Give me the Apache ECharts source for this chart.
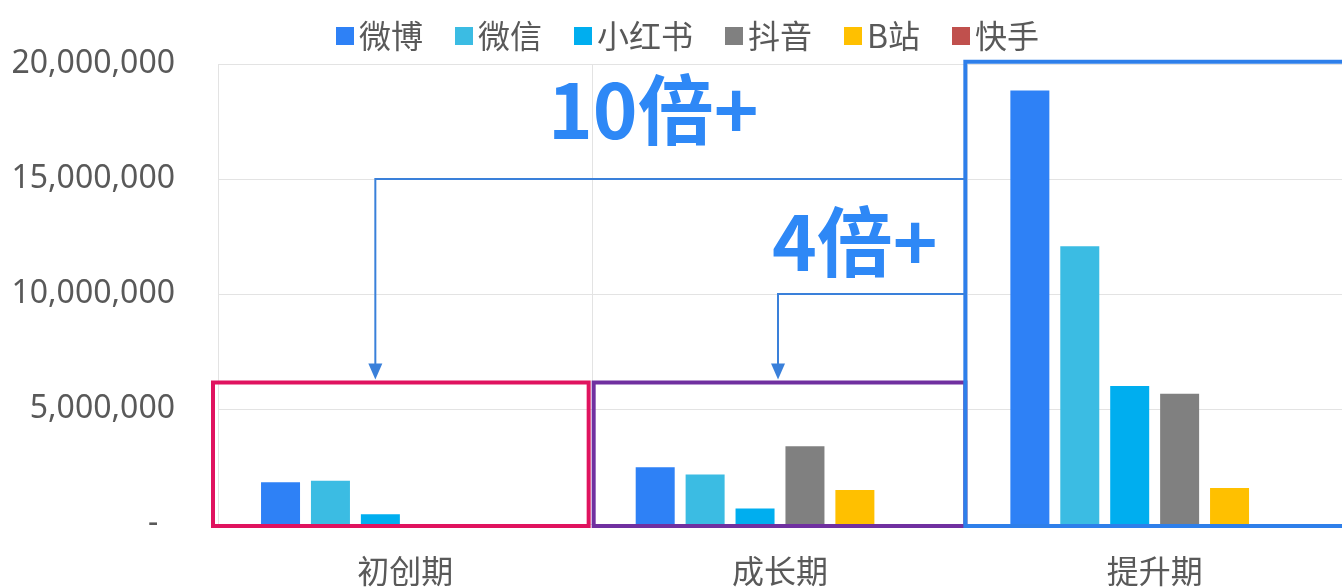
<!DOCTYPE html>
<html>
<head>
<meta charset="utf-8">
<script src="https://cdn.jsdelivr.net/npm/echarts@6/dist/echarts.min.js"></script>
<style>
    html, body { margin: 0; padding: 0; background: #fff; }
    #main { width: 1342px; height: 588px; }
</style>
</head>
<body>
<div id="main"></div>
<script>
// 数据
var categories = ['初创期', '成长期', '提升期'];
var seriesNames = ['微博', '微信', '小红书', '抖音', 'B站', '快手'];
var weibo = [1820000, 2470000, 18850000];
var weixin = [1880000, 2150000, 12080000];
var xiaohongshu = [420000, 670000, 6000000];
var douyin = [0, 3380000, 5660000];
var bilibili = [0, 1480000, 1560000];
var kuaishou = [0, 0, 0];
var yTicks = [0, 5000000, 10000000, 15000000, 20000000];
var colors = ['#2E81F6', '#3BBCE3', '#00AEEF', '#808080', '#FFC000', '#C0504D'];

// 标注: 框 (类目索引, 顶部值) 与 箭头 (起始值, 目标类目)
var boxCats = [0, 1, 2];
var boxTops = [6150000, 6150000, 20100000];
var boxColors = ['#E0135F', '#7030A0', '#2E7FEA'];
var arrowFrom = [15000000, 10000000];
var arrowToCat = [0, 1];
var arrowTexts = ['10倍+', '4倍+'];

var FONT = '"Noto Sans CJK SC", "Noto Sans", sans-serif';
var NUM_FONT = '"Noto Sans", "Noto Sans CJK SC", sans-serif';
var allData = [weibo, weixin, xiaohongshu, douyin, bilibili, kuaishou];

var myChart = echarts.init(document.getElementById('main'));

var option = {
    animation: false,
    color: colors,
    textStyle: { fontFamily: FONT },
    legend: {
        data: seriesNames,
        left: 331,
        top: 15,
        itemWidth: 18,
        itemHeight: 18,
        itemGap: 32,
        icon: 'rect',
        textStyle: { fontSize: 32, color: '#595959', fontFamily: FONT }
    },
    grid: { left: 218, top: 64, width: 1132, height: 460 },
    xAxis: {
        type: 'category',
        data: categories,
        axisLine: { lineStyle: { color: '#D9D9D9' } },
        axisTick: { show: false },
        splitLine: { show: true, lineStyle: { color: '#E3E3E3' } },
        axisLabel: { fontSize: 32, color: '#595959', margin: 31, fontFamily: FONT }
    },
    yAxis: {
        type: 'value',
        min: 0,
        max: 20000000,
        interval: 5000000,
        axisLine: { show: false },
        axisTick: { show: false },
        splitLine: { lineStyle: { color: '#E3E3E3' } },
        axisLabel: {
            fontSize: 32,
            color: '#595959',
            margin: 43,
            fontFamily: NUM_FONT,
            formatter: function (v) {
                return v === 0 ? '-  ' : v.toLocaleString('en-US');
            }
        }
    },
    series: seriesNames.map(function (name, i) {
        return {
            name: name,
            type: 'bar',
            data: allData[i],
            barWidth: 39,
            barGap: '28%',
            barCategoryGap: '23%'
        };
    })
};
myChart.setOption(option);

// 标注图形 (按坐标轴换算像素)
function px(cat, val) {
    return myChart.convertToPixel({ gridIndex: 0 }, [cat, val]);
}
var bw = px(1, 0)[0] - px(0, 0)[0];
var y0 = px(0, 0)[1];
var graphics = [];

boxCats.forEach(function (c, i) {
    var p = px(c, boxTops[i]);
    var left = p[0] - bw / 2 - (i == 0 ? 5 : (i == 1 ? -1 : 2));
    var right = i == 2 ? 1360 : p[0] + bw / 2 - (i == 0 ? 4 : 2);
    graphics.push({
        type: 'rect',
        z: 100,
        shape: { x: left, y: p[1], width: right - left, height: y0 + 2 - p[1] },
        style: { fill: null, stroke: boxColors[i], lineWidth: 4 }
    });
});

var boxLeft = px(2, 0)[0] - bw / 2;
arrowFrom.forEach(function (v, i) {
    var ys = px(0, v)[1];
    var xt = px(arrowToCat[i], 0)[0] + (i == 0 ? -30 : -2);
    var yt = px(0, boxTops[i])[1] - 3;
    graphics.push({
        type: 'polyline',
        z: 101,
        shape: { points: [[boxLeft - 2, ys], [xt, ys], [xt, yt - 14]] },
        style: { fill: null, stroke: '#3A80DA', lineWidth: 2 }
    });
    graphics.push({
        type: 'polygon',
        z: 101,
        shape: { points: [[xt - 7, yt - 16], [xt + 7, yt - 16], [xt, yt]] },
        style: { fill: '#3A80DA' }
    });
});

graphics.push({
    type: 'text',
    z: 102,
    x: 548, y: 110,
    style: { text: arrowTexts[0], font: 'bold 76px ' + FONT, fill: '#2E88F6', textVerticalAlign: 'middle' }
});
graphics.push({
    type: 'text',
    z: 102,
    x: 772, y: 242,
    style: { text: arrowTexts[1], font: 'bold 76px ' + FONT, fill: '#2E88F6', textVerticalAlign: 'middle' }
});

myChart.setOption({ graphic: graphics });
</script>
</body>
</html>
